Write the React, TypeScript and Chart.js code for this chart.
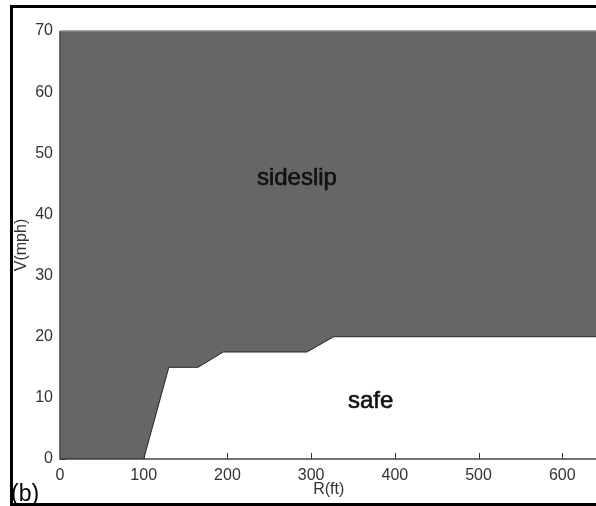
import React, { useEffect, useRef } from "react";
import { Chart, registerables } from "chart.js";

Chart.register(...registerables);

// Boundary between "safe" (below) and "sideslip" (above)
const boundaryR: number[] = [0, 100, 130, 165, 195, 295, 327, 700];
const boundaryV: number[] = [0, 0, 15, 15, 17.5, 17.5, 20, 20];

const xTicks: number[] = [0, 100, 200, 300, 400, 500, 600, 700];
const yTicks: number[] = [0, 10, 20, 30, 40, 50, 60, 70];

const regionLabels: string[] = ["sideslip", "safe"];
const regionLabelR: number[] = [283, 371];
const regionLabelV: number[] = [44.8, 8.3];

const xTitle = "R(ft)";
const yTitle = "V(mph)";
const panelTag = "(b)";

const FONT = "'Liberation Sans', Arial, sans-serif";

const decorPlugin = {
  id: "decor",
  beforeDatasetsDraw(chart: any) {
    const { ctx, chartArea, scales } = chart;
    ctx.save();
    ctx.strokeStyle = "#333";
    ctx.lineWidth = 1;
    xTicks.forEach((v) => {
      const px = Math.round(scales.x.getPixelForValue(v)) + 0.5;
      ctx.beginPath();
      ctx.moveTo(px, chartArea.bottom);
      ctx.lineTo(px, chartArea.bottom - 6);
      ctx.stroke();
    });
    yTicks.forEach((v) => {
      const py = Math.round(scales.y.getPixelForValue(v)) + 0.5;
      ctx.beginPath();
      ctx.moveTo(chartArea.left, py);
      ctx.lineTo(chartArea.left + 6, py);
      ctx.stroke();
    });
    ctx.restore();
  },
  afterDatasetsDraw(chart: any) {
    const { ctx, chartArea, scales } = chart;
    ctx.save();
    ctx.strokeStyle = "#444";
    ctx.lineWidth = 1.5;
    ctx.beginPath();
    ctx.moveTo(chartArea.left, chartArea.top);
    ctx.lineTo(chartArea.left, chartArea.bottom);
    ctx.lineTo(chartArea.right, chartArea.bottom);
    ctx.stroke();
    ctx.strokeStyle = "#8a8a8a";
    ctx.lineWidth = 1.5;
    ctx.beginPath();
    ctx.moveTo(chartArea.left, chartArea.top);
    ctx.lineTo(chartArea.right, chartArea.top);
    ctx.stroke();

    ctx.fillStyle = "#111";
    ctx.strokeStyle = "#111";
    ctx.lineWidth = 0.6;
    ctx.font = `24px ${FONT}`;
    ctx.textAlign = "center";
    ctx.textBaseline = "alphabetic";
    regionLabels.forEach((t, i) => {
      const px = scales.x.getPixelForValue(regionLabelR[i]);
      const py = scales.y.getPixelForValue(regionLabelV[i]);
      ctx.fillText(t, px, py);
      ctx.strokeText(t, px, py);
    });

    ctx.fillStyle = "#333";
    ctx.font = `16px ${FONT}`;
    ctx.fillText(xTitle, scales.x.getPixelForValue(321), 494);
    ctx.save();
    ctx.translate(26, (chartArea.top + chartArea.bottom) / 2);
    ctx.rotate(-Math.PI / 2);
    ctx.fillText(yTitle, 0, 0);
    ctx.restore();

    ctx.fillStyle = "#000";
    ctx.font = `23px ${FONT}`;
    ctx.textAlign = "left";
    ctx.fillText(panelTag, 11, 501);
    ctx.restore();
  },
};

export default function App() {
  const ref = useRef<HTMLCanvasElement | null>(null);

  useEffect(() => {
    if (!ref.current) return;
    const chart = new Chart(ref.current, {
      type: "line",
      data: {
        datasets: [
          {
            data: boundaryR.map((r, i) => ({ x: r, y: boundaryV[i] })),
            fill: "end",
            backgroundColor: "#666666",
            borderColor: "#262626",
            borderWidth: 1,
            pointRadius: 0,
            tension: 0,
          },
        ],
      },
      options: {
        responsive: false,
        animation: false,
        events: [],
        layout: { padding: { left: 0, top: 31, right: 54, bottom: 0 } },
        plugins: { legend: { display: false }, tooltip: { enabled: false } },
        scales: {
          x: {
            type: "linear",
            min: 0,
            max: 700,
            grid: { display: false, drawTicks: false },
            border: { display: false },
            ticks: {
              stepSize: 100,
              padding: 7,
              color: "#333",
              maxRotation: 0,
              font: { family: FONT, size: 16 },
            },
            afterFit(scale: any) {
              scale.height = 47;
            },
          },
          y: {
            type: "linear",
            min: 0,
            max: 70,
            grid: { display: false, drawTicks: false },
            border: { display: false },
            ticks: {
              stepSize: 10,
              padding: 7,
              color: "#333",
              font: { family: FONT, size: 16 },
            },
            afterFit(scale: any) {
              scale.width = 60;
            },
          },
        },
      },
      plugins: [decorPlugin],
    });
    return () => chart.destroy();
  }, []);

  return (
    <div
      style={{
        position: "absolute",
        left: 0,
        top: 0,
        width: 596,
        height: 506,
        overflow: "hidden",
        background: "#fff",
      }}
    >
      <div
        style={{
          position: "absolute",
          left: 10,
          top: 5,
          width: 700,
          height: 501,
          boxSizing: "border-box",
          borderTop: "3px solid #000",
          borderLeft: "3px solid #000",
          borderBottom: "3px solid #000",
        }}
      />
      <canvas
        ref={ref}
        width={700}
        height={506}
        style={{ position: "absolute", left: 0, top: 0 }}
      />
    </div>
  );
}
